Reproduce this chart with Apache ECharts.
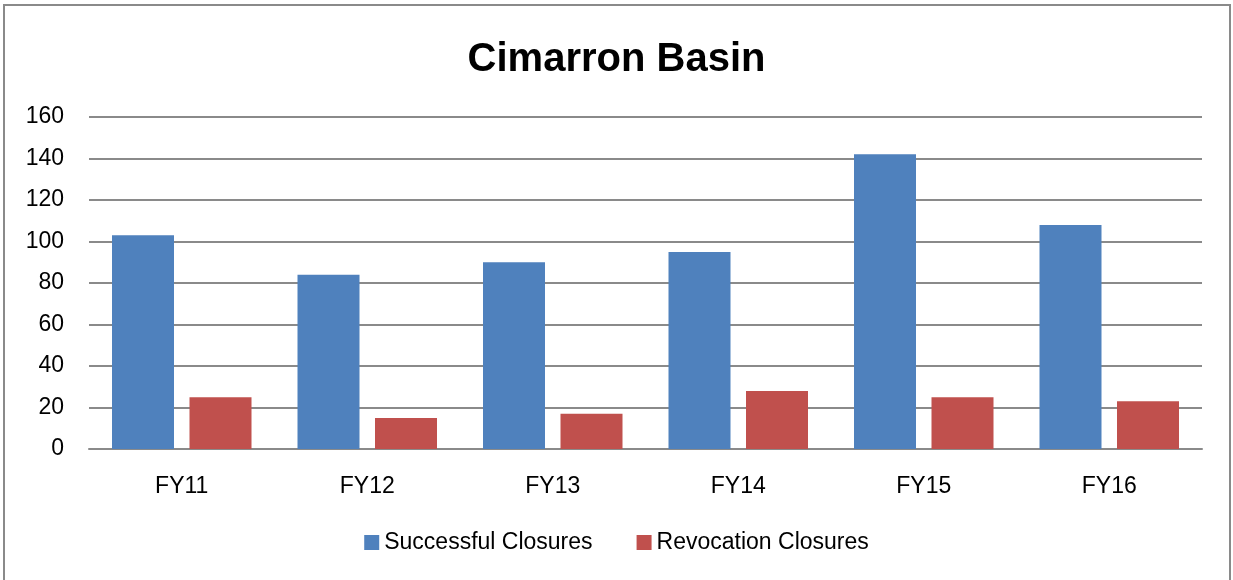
<!DOCTYPE html>
<html>
<head>
<meta charset="utf-8">
<title>Cimarron Basin</title>
<script src="https://cdn.jsdelivr.net/npm/echarts@6/dist/echarts.min.js"></script>
<style>
  html, body { margin: 0; padding: 0; background: #fff; }
  #main { width: 1233px; height: 580px; }
</style>
</head>
<body>
<div id="main"></div>
<script>
const categories = ['FY11', 'FY12', 'FY13', 'FY14', 'FY15', 'FY16']
const successful = [103, 84, 90, 95, 142, 108]
const revocation = [25, 15, 17, 28, 25, 23]

const font = 'Liberation Sans'
const chart = echarts.init(document.getElementById('main'))

chart.setOption({
  animation: false,
  backgroundColor: '#fff',
  graphic: [{
    // frame around the chart
    type: 'rect',
    shape: { x: 4, y: 5, width: 1226, height: 620 },
    style: { fill: 'none', stroke: '#8a8a8a', lineWidth: 2 },
    silent: true
  }],
  title: {
    text: 'Cimarron Basin',
    left: 'center',
    top: 35,
    textStyle: {
      fontFamily: font,
      fontSize: 40,
      fontWeight: 'bold',
      color: '#000'
    }
  },
  legend: {
    data: ['Successful Closures', 'Revocation Closures'],
    bottom: 21,
    left: 'center',
    itemWidth: 15,
    itemHeight: 15,
    itemGap: 44,
    icon: 'rect',
    textStyle: {
      fontFamily: font,
      fontSize: 23,
      color: '#000'
    }
  },
  grid: {
    left: 89,
    right: 31,
    top: 117,
    bottom: 131,
    containLabel: false
  },
  xAxis: {
    type: 'category',
    data: categories,
    axisTick: { show: false },
    axisLine: {
      lineStyle: { color: '#8a8a8a', width: 2 }
    },
    axisLabel: {
      margin: 26,
      fontFamily: font,
      fontSize: 23,
      color: '#000'
    }
  },
  yAxis: {
    type: 'value',
    min: 0,
    max: 160,
    interval: 20,
    axisLine: { show: false },
    axisTick: { show: false },
    axisLabel: {
      margin: 25,
      fontFamily: font,
      fontSize: 23,
      color: '#000'
    },
    splitLine: {
      lineStyle: { color: '#8a8a8a', width: 2 }
    }
  },
  series: [{
    name: 'Successful Closures',
    type: 'bar',
    data: successful,
    barWidth: 62,
    barGap: '25%',
    itemStyle: { color: '#4F81BD' }
  },
  {
    name: 'Revocation Closures',
    type: 'bar',
    data: revocation,
    barWidth: 62,
    barGap: '25%',
    itemStyle: { color: '#C0504D' }
  }]
})
</script>
</body>
</html>
